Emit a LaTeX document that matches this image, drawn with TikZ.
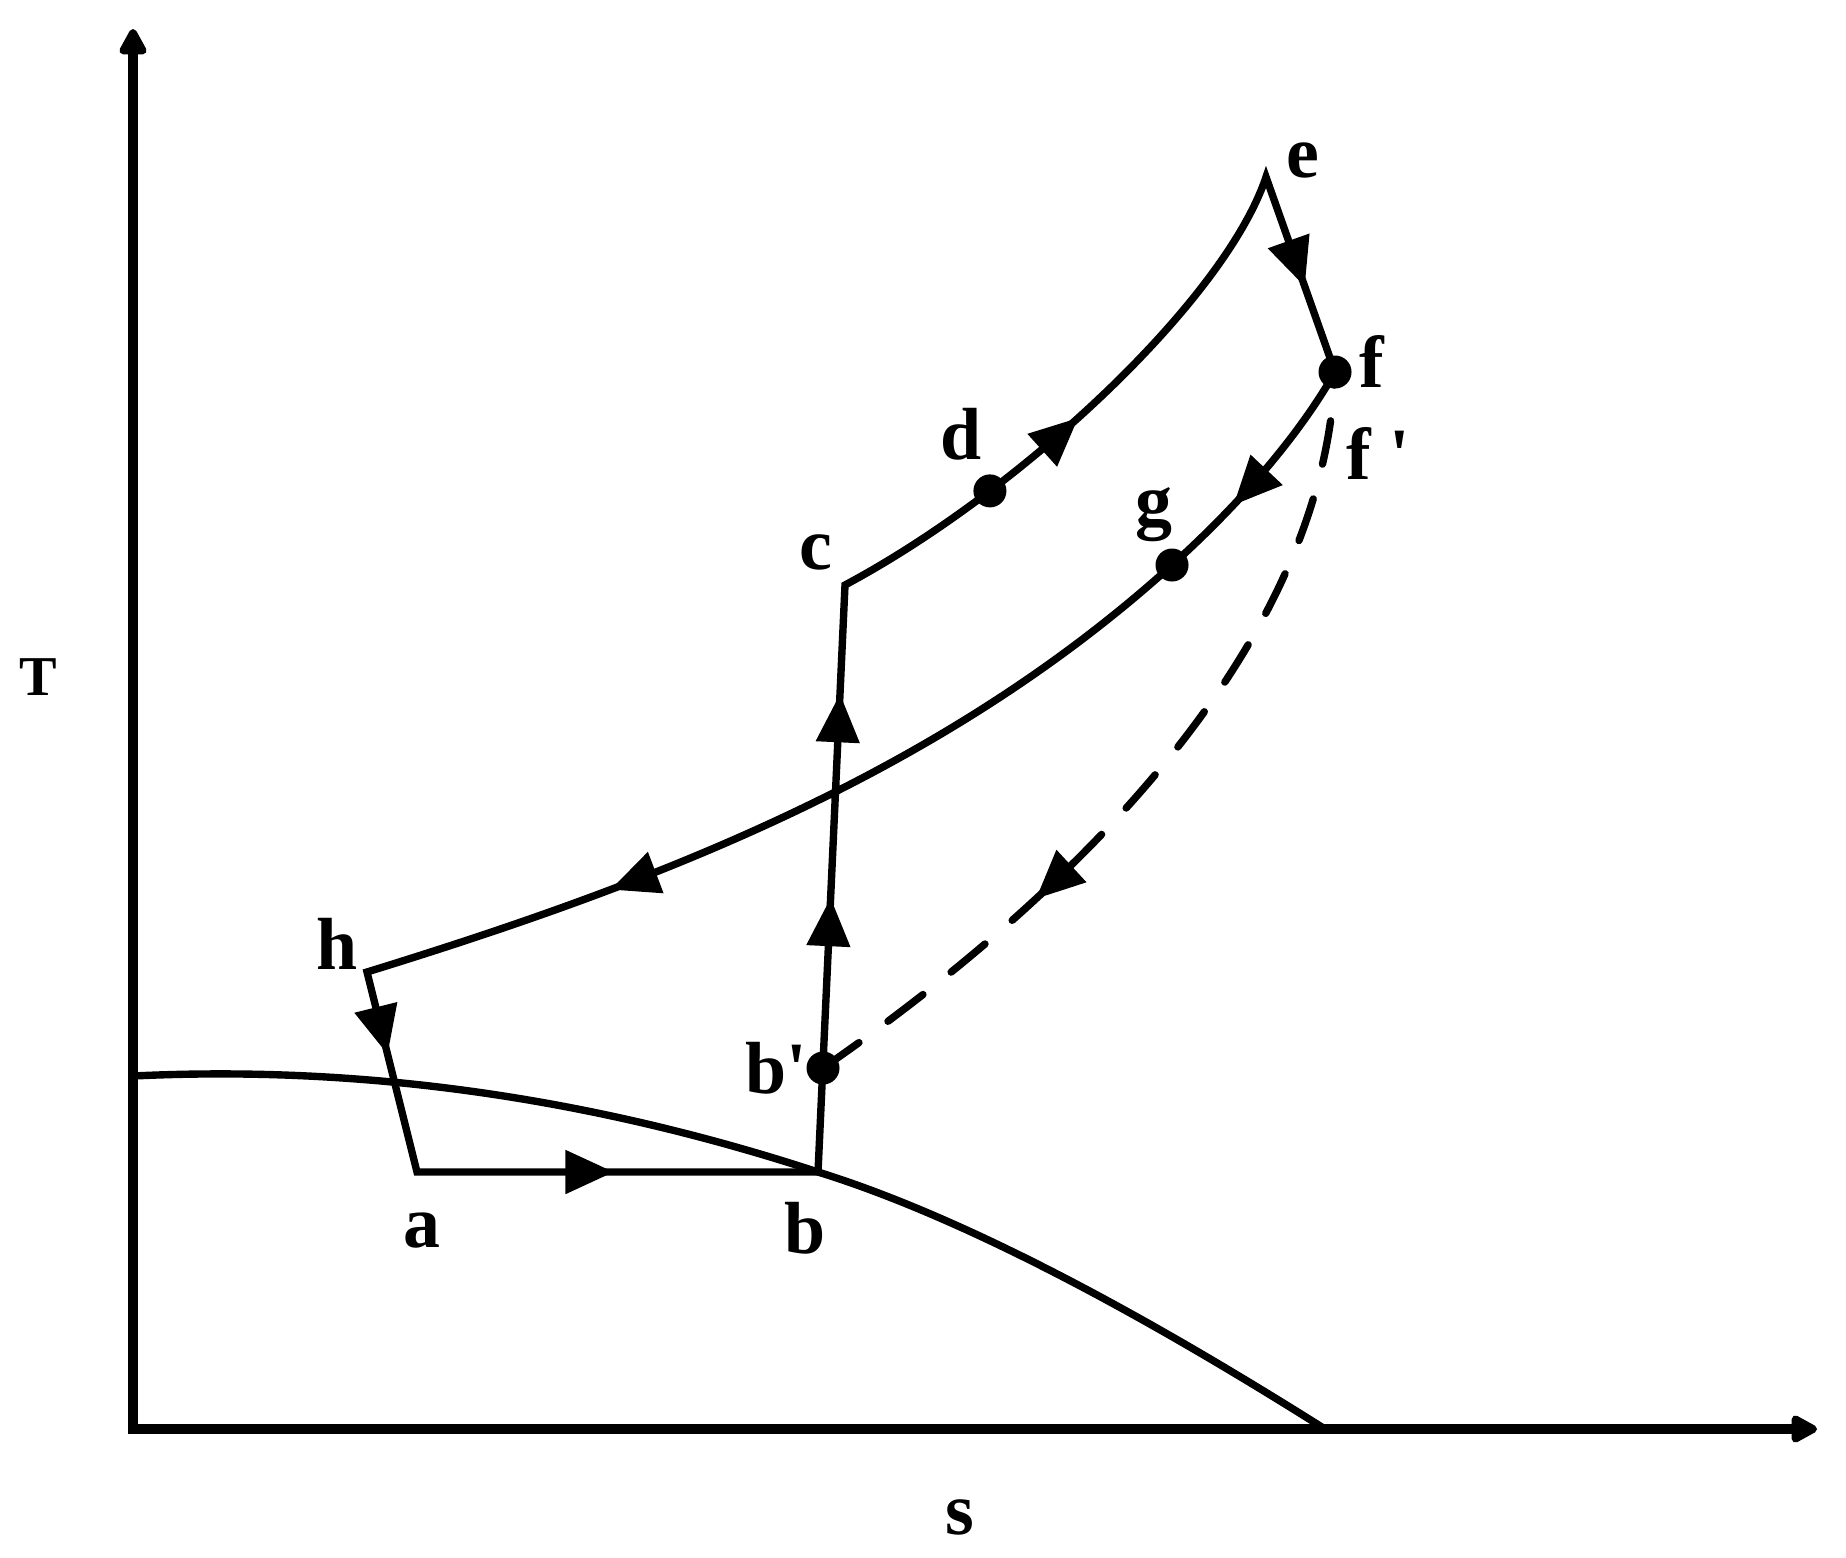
\documentclass[tikz,border=0pt]{standalone}
\usepackage{fontspec}
\setmainfont{Liberation Serif}
\usetikzlibrary{arrows.meta,decorations.markings}
\begin{document}
\begin{tikzpicture}[x=0.01cm,y=-0.01cm,
  axis/.style={line width=2.9pt},
  cyc/.style={line width=2.1pt},
  Tri/.tip={Triangle[length=0.48cm,width=0.44cm]},
  AxTip/.tip={Triangle[length=0.3cm,width=0.3cm,round]},
  marr/.style={decorate,decoration={markings,mark=at position #1 with {\arrow{Tri}}}},
  rmarr/.style={decorate,decoration={markings,mark=at position #1 with {\arrowreversed{Tri}}}},
  dot/.style={circle,fill=black,inner sep=0pt,minimum size=0.33cm},
  lab/.style={font=\fontsize{21}{21}\selectfont\bfseries,inner sep=0pt},
  axlab/.style={font=\fontsize{16}{16}\selectfont\bfseries,inner sep=0pt}]
\useasboundingbox (0,0) rectangle (1846,1557);
% axes
\coordinate (O) at (133,1429);
\coordinate (Ytip) at (133,29);
\coordinate (Xtip) at (1817,1429);
\draw[axis,{AxTip}-{AxTip}] (Ytip) -- (O) -- (Xtip);
% points
\coordinate (a) at (417,1172);
\coordinate (b) at (818,1172);
\coordinate (bp) at (823,1068);
\coordinate (c) at (845,585);
\coordinate (e) at (1266,177);
\coordinate (f) at (1335,372);
\coordinate (g) at (1172,565);
\coordinate (h) at (367,972);
\coordinate (s0) at (133,1076);
\coordinate (s1) at (1325,1429);
% saturation curve
\draw[cyc] (s0) .. controls (361,1065) and (589,1097) .. (b)
  .. controls (950,1213) and (1119,1299) .. (s1);
% cycle
\draw[cyc] (a) -- (b) -- (c)
  .. controls (1021,491) and (1225,300) .. coordinate[pos=0.27] (d) (e)
  -- (f) .. controls (1295,442) and (1233,510) .. (g)
  .. controls (940,775) and (652,884) .. (h) -- cycle;
% arrows on cycle
\path[marr=0.49] (a) -- (b);
\path[decorate,decoration={markings,mark=at position 2.74cm with {\arrow{Tri}},mark=at position 4.78cm with {\arrow{Tri}}}] (b) -- (c);
\path[marr=2.87cm] (c) .. controls (1021,491) and (1225,300) .. (e);
\path[marr=0.56] (e) -- (f);
\path[marr=0.66] (f) .. controls (1295,442) and (1233,510) .. (g);
\path[marr=0.717] (g) .. controls (940,775) and (652,884) .. (h);
\path[marr=0.41] (h) -- (a);
% dashed curve
\draw[cyc,line cap=round,dash pattern=on 0.44cm off 0.36cm] (bp) .. controls (1028,926) and (1323,672) .. (f);
\path[rmarr=0.305] (bp) .. controls (1028,926) and (1323,672) .. (f);
% dots
\node[dot] (dotd) at (d) {};
\node[dot] (dotf) at (f) {};
\node[dot] (dotg) at (g) {};
\node[dot] (dotbp) at (bp) {};
% labels
\node[lab] (la) at (422,1231) {a};
\node[lab] (lb) at (805,1228) {b};
\node[lab] (lbp) at (776,1068) {b\textquotesingle};
\node[lab] (lc) at (816,552) {c};
\node[lab] (ld) at (961,434) {d};
\node[lab] (le) at (1303,160) {e};
\node[lab] (lf) at (1372,361) {f};
\node[lab] (lfp) at (1378,453) {f \textquotesingle};
\node[lab] (lg) at (1154,515) {g};
\node[lab] (lh) at (337,944) {h};
\node[axlab] (lT) at (38,677) {T};
\node[lab] (ls) at (960,1517) {s};
\end{tikzpicture}
\end{document}
